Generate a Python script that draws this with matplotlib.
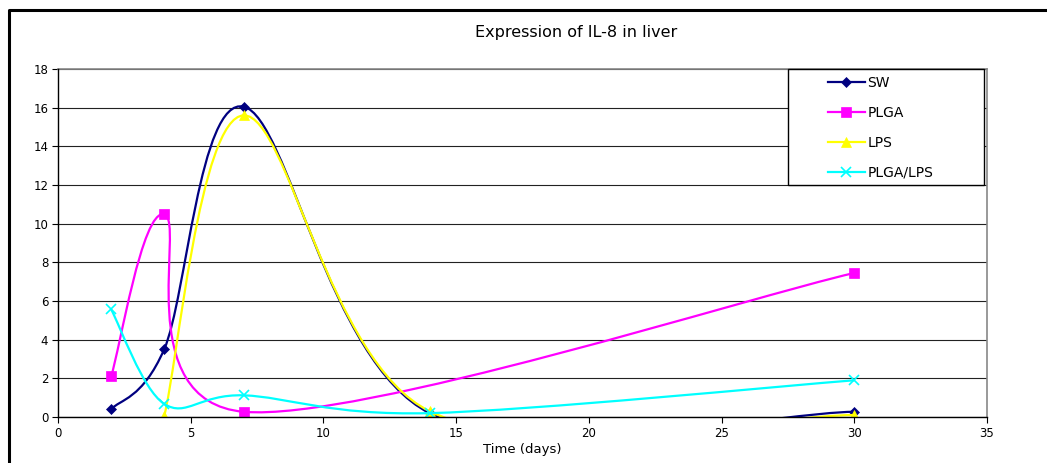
import numpy as np
import matplotlib
matplotlib.use("Agg")
import matplotlib.pyplot as plt
from matplotlib.path import Path
from matplotlib.patches import PathPatch, Rectangle
from matplotlib.lines import Line2D

plt.rcParams['font.family'] = ['DejaVu Sans']

# ---- data ----
days = [2, 4, 7, 14, 30]
sw = [0.4, 3.5, 16.05, 0.2, 0.27]
plga = [2.1, 10.48, 0.27, np.nan, 7.45]
lps = [np.nan, 0.05, 15.6, 0.3, 0.1]
plga_lps = [5.57, 0.68, 1.12, 0.2, 1.9]

series_names = ['SW', 'PLGA', 'LPS', 'PLGA/LPS']
series_values = [sw, plga, lps, plga_lps]
colors = ['#000080', '#FF00FF', '#FFFF00', '#00FFFF']
markers = ['D', 's', '^', 'x']
msizes = [5, 7.5, 7.5, 7]

title = 'Expression of IL-8 in liver'
xlabel = 'Time (days)'
xticks = [0, 5, 10, 15, 20, 25, 30, 35]
yticks = [0, 2, 4, 6, 8, 10, 12, 14, 16, 18]

W, H = 1047, 463
fig = plt.figure(figsize=(W / 100, H / 100), dpi=100)
L, R, T, B = 58, 987, 69, 417
ax = fig.add_axes([L / W, 1 - B / H, (R - L) / W, (B - T) / H])


def smooth_path(xs, ys):
    pts = [np.array([x, y], float) for x, y in zip(xs, ys) if not np.isnan(y)]
    n = len(pts)
    verts = [pts[0]]
    codes = [Path.MOVETO]
    for i in range(n - 1):
        p0 = pts[i - 1] if i > 0 else pts[i]
        p1 = pts[i]
        p2 = pts[i + 1]
        p3 = pts[i + 2] if i + 2 < n else pts[i + 1]
        c1 = p1 + (p2 - p0) / 6.0
        c2 = p2 - (p3 - p1) / 6.0
        verts += [c1, c2, p2]
        codes += [Path.CURVE4] * 3
    return Path(verts, codes)


handles = []
for k, (name, vals, c, m, ms) in enumerate(zip(series_names, series_values, colors, markers, msizes)):
    patch = PathPatch(smooth_path(days, vals), facecolor='none', edgecolor=c,
                      lw=1.6, zorder=3 + k, transform=ax.transData)
    ax.add_patch(patch)
    ax.plot(days, vals, linestyle='none', marker=m, color=c, markersize=ms,
            markeredgewidth=1.2 if m == 'x' else 0.5, zorder=3.5 + k)
    handles.append(Line2D([], [], color=c, lw=1.6, marker=m, markersize=ms,
                          markeredgewidth=1.2 if m == 'x' else 0.5))

ax.set_xlim(0, 35)
ax.set_ylim(0, 18)
ax.set_xticks(xticks)
ax.set_yticks(yticks)
ax.tick_params(axis='both', labelsize=8.5, length=4, width=0.8, direction='out', color='black')
ax.tick_params(axis='x', pad=3)
ax.tick_params(axis='y', pad=3)
ax.yaxis.grid(True, color='#222222', lw=0.8)
ax.set_axisbelow(True)
for s in ['left', 'bottom']:
    ax.spines[s].set_color('black')
    ax.spines[s].set_linewidth(1.0)
for s in ['top', 'right']:
    ax.spines[s].set_color('#888888')
    ax.spines[s].set_linewidth(1.2)
ax.spines['left'].set_zorder(10)
ax.spines['bottom'].set_zorder(10)

ax.set_xlabel(xlabel, fontsize=9.5, labelpad=2)
fig.text(576 / W, 1 - 33 / H, title, ha='center', va='center', fontsize=11.5)

# legend box
lx0, ly0, lx1, ly1 = 788, 69, 984, 185
fig.patches.append(Rectangle((lx0 / W, 1 - ly1 / H), (lx1 - lx0) / W, (ly1 - ly0) / H,
                             transform=fig.transFigure, facecolor='white',
                             edgecolor='black', lw=1.0, zorder=20))
leg = fig.legend(handles, series_names, loc='upper left',
                 bbox_to_anchor=(828 / W, 1 - 76 / H), bbox_transform=fig.transFigure,
                 frameon=False, fontsize=10, handlelength=2.65, handletextpad=0.2,
                 labelspacing=1.15, borderpad=0, borderaxespad=0)
leg.set_zorder(21)

# outer chart frame (cropped)
fig.add_artist(Line2D([9 / W, 9 / W, 1.0], [0.0, 1 - 10 / H, 1 - 10 / H],
                      transform=fig.transFigure, color='black', lw=2.2))

fig.savefig('out.png', dpi=100)
